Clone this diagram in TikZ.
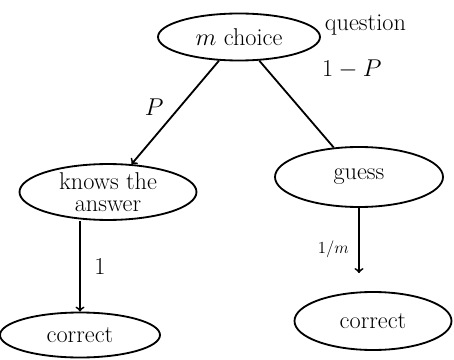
\documentclass[tikz,border=0pt]{standalone}
\usepackage{amsmath}
\usepackage{amssymb}
\usepackage{tikz}
\usetikzlibrary{shapes.geometric}

\begin{document}
\begin{tikzpicture}[
		line width=1.3pt,
		every node/.style={ellipse, draw, inner sep=0pt, font=\LARGE},
		every label/.append style={draw=none}
	]
  \useasboundingbox (0,0) rectangle (11.35,8.975);
  \node (mc) [minimum width=4.05cm, minimum height=1.175cm] at (5.975, 8.05) {$m$ choice};
  \node (qu) [rectangle, draw=none, anchor=west] at (8.1, 8.35) {question};
  \node (kn) [minimum width=4.425cm, minimum height=1.25cm, align=center] at (2.7, 4.175) {knows the\\[-6pt]answer};
  \node (gu) [minimum width=4.2cm, minimum height=1.5cm] at (8.975, 4.55) {guess};
  \node (cl) [minimum width=4.0cm, minimum height=1.125cm] at (2.0, 0.6) {correct};
  \node (cr) [minimum width=3.925cm, minimum height=1.45cm] at (9.325, 0.95) {correct};
  \draw (mc) edge [->] node [draw=none, pos=0.45, left=8pt] {$P$} (kn);
  \draw (mc) edge node [draw=none, pos=0.1, right=30pt] {$1-P$} (gu);
  \draw [->] (kn.south -| cl.north) -- node [draw=none, right=8pt] {$1$} (cl.north);
  \draw [->, shorten >=0.45cm] (gu) -- node [draw=none, left=2pt, font=\large] {$1/m$} (gu |- cr.north);
\end{tikzpicture}
\end{document}
